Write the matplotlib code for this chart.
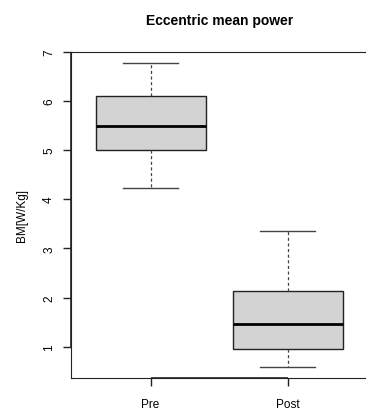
import matplotlib
matplotlib.use('Agg')
import matplotlib.pyplot as plt

plt.rcParams['font.family'] = ['Liberation Sans', 'DejaVu Sans']

# Summary statistics per group (power relative to body mass)
groups = ["Pre", "Post"]
whisker_low = [4.22, 0.59]
quartile_1 = [5.00, 0.96]
medians = [5.48, 1.47]
quartile_3 = [6.09, 2.14]
whisker_high = [6.76, 3.35]
y_ticks = [1, 2, 3, 4, 5, 6, 7]

stats = []
for i, name in enumerate(groups):
    stats.append({
        "label": name,
        "whislo": whisker_low[i],
        "q1": quartile_1[i],
        "med": medians[i],
        "q3": quartile_3[i],
        "whishi": whisker_high[i],
        "fliers": [],
    })

fig = plt.figure(figsize=(3.66, 4.10), dpi=100)
ax = fig.add_axes([0.194, 0.0756, 0.81, 0.796])

line_col = "#222222"
ax.bxp(
    stats,
    positions=[1, 2],
    widths=0.8,
    patch_artist=True,
    boxprops=dict(facecolor="#d3d3d3", edgecolor=line_col, linewidth=1.0),
    medianprops=dict(color="black", linewidth=2.0),
    whiskerprops=dict(color="#444444", linewidth=0.9, linestyle=(0, (2.5, 2))),
    capprops=dict(color="#444444", linewidth=1.0),
    capwidths=0.4,
)

ax.set_xlim(0.42, 2.58)
ax.set_ylim(0.364, 7.0)
ax.set_yticks(y_ticks)
ax.set_yticklabels([str(t) for t in y_ticks], rotation=90, va="center", fontsize=8.5)
ax.set_xticks([1, 2])
ax.set_xticklabels(groups, fontsize=8.5)
ax.tick_params(axis="y", length=5.5, width=1.0, color=line_col, pad=6)
ax.tick_params(axis="x", length=5.5, width=1.0, color=line_col, pad=9)

for side in ["left", "bottom", "top", "right"]:
    ax.spines[side].set_linewidth(0.8)
    ax.spines[side].set_color(line_col)

# slightly heavier axis lines between the outer ticks, as in base R plots
ax.hlines(0.364, 1, 2, color=line_col, lw=1.2, clip_on=False)
ax.vlines(0.42, 1, 7, color=line_col, lw=1.2, clip_on=False)

ax.set_ylabel("BM[W/Kg]", fontsize=8.5, labelpad=11)
ax.set_title("Eccentric mean power", fontsize=10, fontweight="bold", pad=20)

fig.savefig("out.png", dpi=100)
